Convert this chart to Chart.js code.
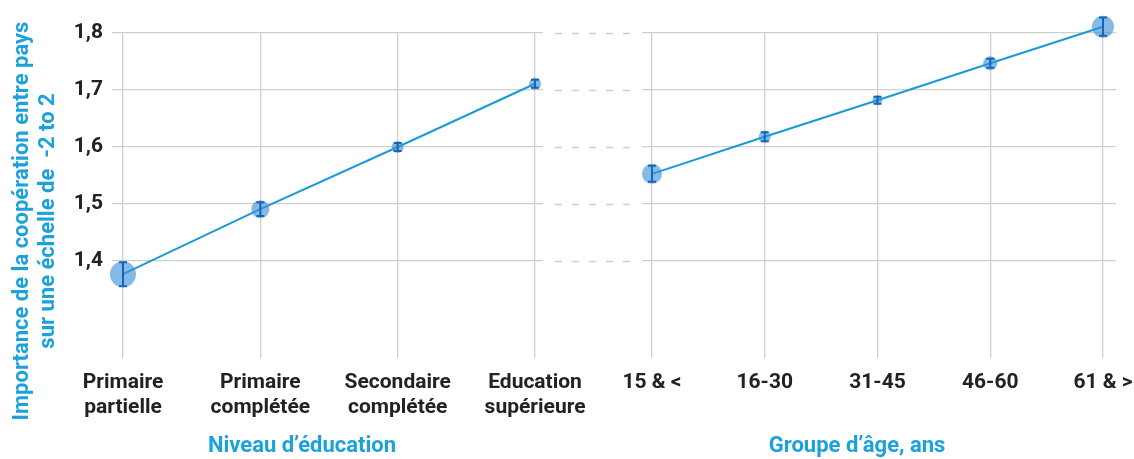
<!DOCTYPE html>
<html>
<head>
<meta charset="utf-8">
<script src="https://cdn.jsdelivr.net/npm/chart.js@4"></script>
<style>
  body { margin: 0; background: #fff; }
  #wrap { position: relative; width: 1134px; height: 459px; }
  canvas { position: absolute; top: 0; }
</style>
</head>
<body>
<div id="wrap">
  <canvas id="eduChart" width="640" height="459" style="left:0"></canvas>
  <canvas id="ageChart" width="534" height="459" style="left:600px"></canvas>
</div>
<script>
// valeurs
const eduLabels = [['Primaire', 'partielle'], ['Primaire', 'complétée'], ['Secondaire', 'complétée'], ['Education', 'supérieure']];
const eduMeans = [1.377, 1.491, 1.600, 1.711];
const eduErrors = [0.021, 0.012, 0.007, 0.007];

const ageLabels = ['15 & <', '16-30', '31-45', '46-60', '61 & >'];
const ageMeans = [1.553, 1.618, 1.682, 1.747, 1.811];
const ageErrors = [0.014, 0.008, 0.006, 0.008, 0.016];

const yTicks = [1.4, 1.5, 1.6, 1.7, 1.8];

// taille des bulles (style)
const eduRadius = [13, 9, 6, 6];
const ageRadius = [10, 6, 5, 7, 11];

const FONT = 'Roboto';
const CYAN = '#1ba1db';
const GRID = '#cfcfcf';

const errorBars = {
  id: 'errorBars',
  afterDatasetsDraw(chart, args, opts) {
    const { ctx, scales: { x, y } } = chart;
    ctx.save();
    ctx.strokeStyle = '#1666b8';
    ctx.lineWidth = 2;
    opts.means.forEach((m, i) => {
      const px = x.getPixelForValue(i);
      const top = y.getPixelForValue(m + opts.errors[i]);
      const bot = y.getPixelForValue(m - opts.errors[i]);
      ctx.beginPath();
      ctx.moveTo(px, top); ctx.lineTo(px, bot);
      ctx.moveTo(px - 4, top); ctx.lineTo(px + 4, top);
      ctx.moveTo(px - 4, bot); ctx.lineTo(px + 4, bot);
      ctx.stroke();
    });
    ctx.restore();
  }
};

const extras = {
  id: 'extras',
  afterDraw(chart, args, opts) {
    const { ctx, chartArea, scales: { y } } = chart;
    ctx.save();
    if (opts.dashes) {
      ctx.strokeStyle = GRID;
      ctx.lineWidth = 1.3;
      ctx.setLineDash([7, 10]);
      yTicks.forEach(t => {
        const py = Math.round(y.getPixelForValue(t)) + 0.5;
        ctx.beginPath();
        ctx.moveTo(chartArea.right + 12, py);
        ctx.lineTo(chartArea.right + 88, py);
        ctx.stroke();
      });
      ctx.setLineDash([]);
    }
    ctx.fillStyle = CYAN;
    ctx.font = 'bold 22px ' + FONT;
    ctx.textAlign = 'center';
    ctx.textBaseline = 'middle';
    ctx.fillText(opts.xTitle, opts.xTitleX, 446);
    if (opts.yTitle) {
      ctx.translate(0, 221);
      ctx.rotate(-Math.PI / 2);
      ctx.fillText(opts.yTitle[0], 0, 22);
      ctx.fillText(opts.yTitle[1], 0, 48);
    }
    ctx.restore();
  }
};

function makeChart(id, labels, means, errors, radius, cfg) {
  return new Chart(document.getElementById(id), {
    type: 'line',
    data: {
      datasets: [{
        data: means.map((v, i) => ({ x: i, y: v })),
        borderColor: '#1a9ad6',
        borderWidth: 2,
        pointRadius: radius,
        pointHoverRadius: radius,
        pointBackgroundColor: 'rgba(58,143,216,0.62)',
        pointBorderWidth: 0,
        clip: false
      }]
    },
    options: {
      responsive: false,
      animation: false,
      layout: { padding: cfg.padding, autoPadding: false },
      plugins: {
        legend: { display: false },
        tooltip: { enabled: false },
        errorBars: { means: means, errors: errors },
        extras: cfg.extras
      },
      scales: {
        x: {
          type: 'linear',
          min: cfg.xMin,
          max: cfg.xMax,
          afterBuildTicks: s => { s.ticks = labels.map((_, i) => ({ value: i })); },
          afterFit: s => { s.height = 101; s.paddingLeft = 0; s.paddingRight = 0; },
          grid: { color: GRID, lineWidth: 1.3, drawTicks: false },
          border: { display: false },
          ticks: {
            autoSkip: false,
            maxRotation: 0,
            padding: 12,
            color: '#222',
            font: { family: FONT, size: 21, weight: 'bold', lineHeight: 1.2 },
            callback: v => labels[v]
          }
        },
        y: {
          min: 1.23,
          max: 1.8,
          afterBuildTicks: s => { s.ticks = yTicks.map(v => ({ value: v })); },
          afterFit: s => { s.width = cfg.yWidth; },
          grid: { color: GRID, lineWidth: 1.3, drawTicks: false },
          border: { display: false },
          ticks: {
            display: cfg.yLabels,
            padding: 9,
            color: '#222',
            font: { family: FONT, size: 21, weight: 'bold' },
            callback: v => v.toFixed(1).replace('.', ',')
          }
        }
      }
    },
    plugins: [errorBars, extras]
  });
}

makeChart('eduChart', eduLabels, eduMeans, eduErrors, eduRadius, {
  padding: { left: 0, top: 33, right: 97, bottom: 0 },
  xMin: -0.08, xMax: 3.058,
  yWidth: 112, yLabels: true,
  extras: {
    dashes: true,
    xTitle: 'Niveau d’éducation', xTitleX: 302,
    yTitle: ['Importance de la coopération entre pays', 'sur une échelle de  -2 to 2']
  }
});

makeChart('ageChart', ageLabels, ageMeans, ageErrors, ageRadius, {
  padding: { left: 42, top: 33, right: 18, bottom: 0 },
  xMin: -0.0887, xMax: 4.1153,
  yWidth: 0, yLabels: false,
  extras: { dashes: false, xTitle: 'Groupe d’âge, ans', xTitleX: 257 }
});
</script>
</body>
</html>
